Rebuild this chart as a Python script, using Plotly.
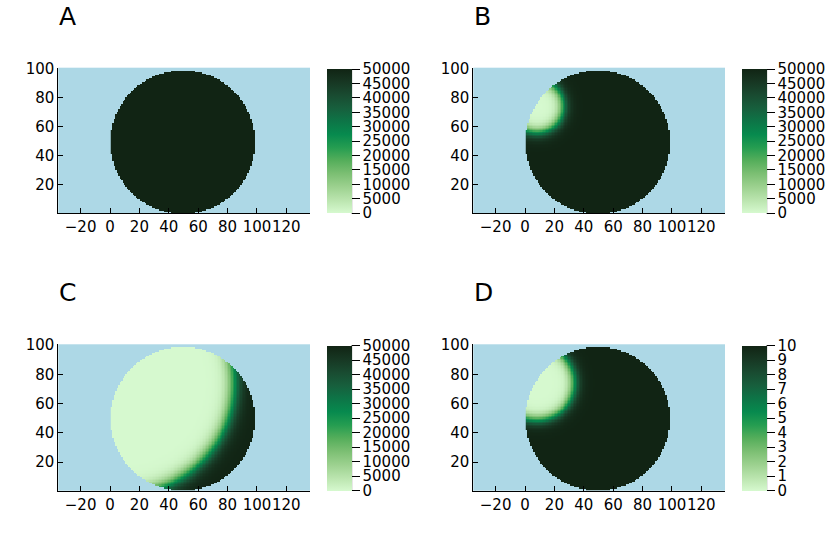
import numpy as np
import plotly.graph_objects as go
import plotly.express as px

# ---- data ----
panel_labels = ["A", "B", "C", "D"]
value_max = [50000, 50000, 50000, 10]
colorbar_dtick = [5000, 5000, 5000, 1]
front_radius = [None, 18.0, 76.5, 25.5]   # distance of the front from the source
front_width = [None, 4.5, 6.0, 4.5]
source_point = [8.0, 74.0]
disk_center = [49.5, 49.5]
disk_radius = 49.2
grid_n = 100
x_ticks = [-20, 0, 20, 40, 60, 80, 100, 120]
y_ticks = [20, 40, 60, 80, 100]

W, H = 830, 554
FONT = "DejaVu Sans"

xs = np.arange(1, grid_n + 1)
ys = np.arange(1, grid_n + 1)
XX, YY = np.meshgrid(xs, ys)
inside = (XX - disk_center[0]) ** 2 + (YY - disk_center[1]) ** 2 <= disk_radius ** 2
dist_src = np.sqrt((XX - source_point[0]) ** 2 + (YY - source_point[1]) ** 2)


def field(i):
    vmax = value_max[i]
    if front_radius[i] is None:
        z = np.full(XX.shape, float(vmax))
    else:
        z = vmax * 0.5 * (1 + np.tanh((dist_src - front_radius[i]) / front_width[i]))
    return np.where(inside, z, np.nan)


# panel geometry in pixels: (left, right, top, bottom)
panels_px = [
    (58.3, 310.0, 67.7, 213.3),
    (473.3, 725.0, 67.7, 213.3),
    (58.3, 310.0, 344.3, 490.7),
    (473.3, 725.0, 344.3, 490.7),
]
cbar_left_off = 268.3   # colorbar left relative to plot left
cbar_thick = 25.0

fig = go.Figure()
shapes = []
annotations = []
for i in range(4):
    l, r, t, b = panels_px[i]
    ax = "" if i == 0 else str(i + 1)
    cb_left = l + cbar_left_off
    cb_top, cb_bot = t + 1.3, b
    fig.add_trace(go.Heatmap(
        x=xs, y=ys, z=field(i),
        xaxis="x" + ax, yaxis="y" + ax,
        colorscale=px.colors.cmocean.algae,
        zmin=0, zmax=value_max[i],
        hoverongaps=False,
        colorbar=dict(
            x=cb_left / W, xanchor="left", xpad=0,
            y=1 - (cb_top + cb_bot) / 2 / H, yanchor="middle", ypad=0,
            len=(cb_bot - cb_top), lenmode="pixels",
            thickness=cbar_thick, thicknessmode="pixels",
            outlinewidth=0,
            tick0=0, dtick=colorbar_dtick[i], tickformat="d",
            ticks="outside", ticklen=8, tickcolor="black", tickwidth=1,
            tickfont=dict(family=FONT, size=15, color="black"),
        ),
    ))
    shapes.append(dict(type="line", xref="paper", yref="paper",
                       x0=(cb_left + cbar_thick) / W, x1=(cb_left + cbar_thick) / W,
                       y0=1 - cb_top / H, y1=1 - cb_bot / H,
                       line=dict(color="black", width=1)))
    axis_common = dict(showgrid=False, zeroline=False, showline=True, linecolor="black",
                       linewidth=1, ticks="inside", ticklen=5, tickcolor="black",
                       automargin=False, tickangle=0,
                       tickfont=dict(family=FONT, size=15, color="black"), mirror=False)
    fig.update_layout(**{
        "xaxis" + ax: dict(domain=[l / W, r / W], range=[-35.2, 136.1],
                           anchor="y" + ax, tickvals=x_ticks, **axis_common),
        "yaxis" + ax: dict(domain=[1 - b / H, 1 - t / H], range=[0.5, 100.5],
                           anchor="x" + ax, tickvals=y_ticks, **axis_common),
    })
    annotations.append(dict(text=panel_labels[i], xref="paper", yref="paper",
                            x=(l - 1) / W, xanchor="left",
                            y=1 - (t - 51.5) / H, yanchor="middle",
                            showarrow=False,
                            font=dict(family=FONT, size=25, color="black")))

fig.update_layout(
    width=W, height=H, margin=dict(l=0, r=0, t=0, b=0, pad=0, autoexpand=False),
    paper_bgcolor="white", plot_bgcolor="#ADD8E6",
    showlegend=False, shapes=shapes, annotations=annotations,
)
fig.write_html("out.html", config={"displayModeBar": False},
               post_script="document.body.style.margin='0';document.body.style.padding='0';")
